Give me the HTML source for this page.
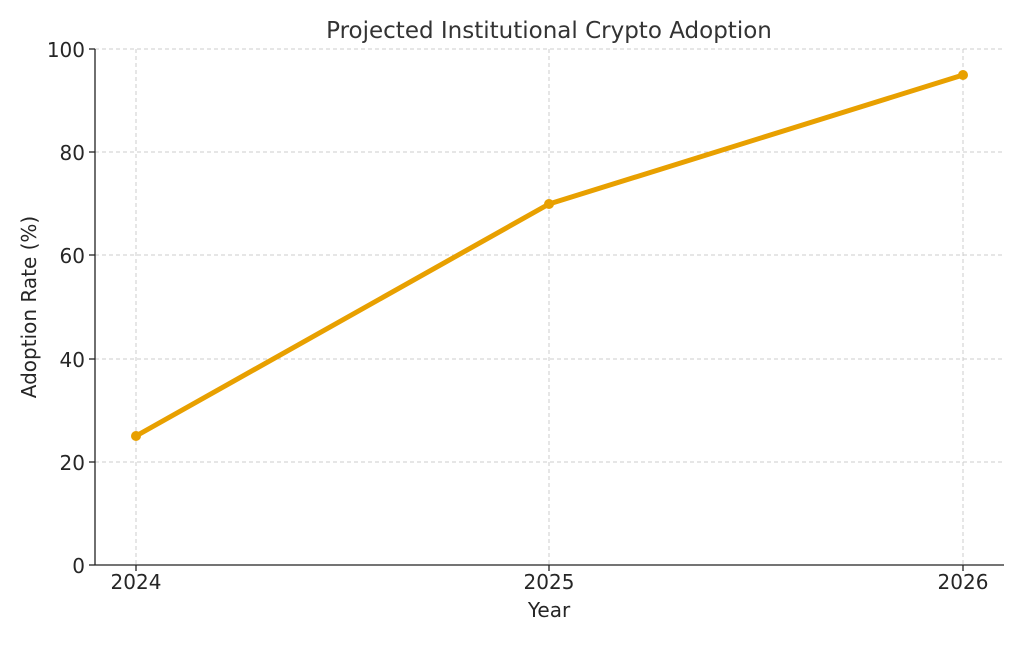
<!DOCTYPE html>
<html><head><meta charset="utf-8"><style>body{margin:0;background:#fff}</style></head>
<body>
<svg width="1024" height="640" xmlns="http://www.w3.org/2000/svg" font-family="DejaVu Sans, Liberation Sans, sans-serif">
<rect width="1024" height="640" fill="#fff"/>
<g stroke="#cccccc" stroke-width="1" stroke-dasharray="4,3">
<line x1="136" y1="49" x2="136" y2="565"/>
<line x1="549" y1="49" x2="549" y2="565"/>
<line x1="963" y1="49" x2="963" y2="565"/>
<line x1="95" y1="49" x2="1004" y2="49"/>
<line x1="95" y1="152" x2="1004" y2="152"/>
<line x1="95" y1="255" x2="1004" y2="255"/>
<line x1="95" y1="359" x2="1004" y2="359"/>
<line x1="95" y1="462" x2="1004" y2="462"/>
</g>
<g stroke="#222" stroke-width="1.3">
<line x1="95" y1="49" x2="95" y2="565"/>
<line x1="95" y1="565" x2="1004" y2="565"/>
<line x1="89" y1="49" x2="95" y2="49"/><line x1="89" y1="152" x2="95" y2="152"/><line x1="89" y1="255" x2="95" y2="255"/><line x1="89" y1="359" x2="95" y2="359"/><line x1="89" y1="462" x2="95" y2="462"/><line x1="89" y1="565" x2="95" y2="565"/>
<line x1="136" y1="565" x2="136" y2="571"/><line x1="549" y1="565" x2="549" y2="571"/><line x1="963" y1="565" x2="963" y2="571"/>
</g>
<g font-size="20" fill="#262626" text-anchor="end">
<text x="85" y="57">100</text><text x="85" y="160">80</text><text x="85" y="263">60</text><text x="85" y="367">40</text><text x="85" y="470">20</text><text x="85" y="573">0</text>
</g>
<g font-size="20" fill="#262626" text-anchor="middle">
<text x="136" y="589">2024</text><text x="549" y="589">2025</text><text x="963" y="589">2026</text>
<text x="549" y="617">Year</text>
<text x="549" y="38" font-size="23" fill="#333">Projected Institutional Crypto Adoption</text>
<text transform="translate(36,307) rotate(-90)">Adoption Rate (%)</text>
</g>
<polyline points="136,436 549,204 963,75" fill="none" stroke="#E8A000" stroke-width="5" stroke-linejoin="round"/>
<circle cx="136" cy="436" r="5" fill="#E8A000"/><circle cx="549" cy="204" r="5" fill="#E8A000"/><circle cx="963" cy="75" r="5" fill="#E8A000"/>
</svg>
</body></html>
